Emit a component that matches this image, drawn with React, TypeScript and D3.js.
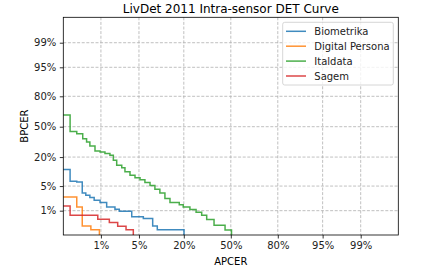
import { useEffect, useRef } from "react";
import * as d3 from "d3";

// error rates in percent, step vertices (APCER, BPCER)
const tickLabels = [1, 5, 20, 50, 80, 95, 99];
const seriesNames = ["Biometrika", "Digital Persona", "Italdata", "Sagem"];
const colors = ["#1f77b4", "#ff7f0e", "#2ca02c", "#d62728"];

const biometrikaApcer = [0, 0.2, 0.29, 0.39, 0.47, 0.58, 0.72, 0.96, 1.31, 1.9, 2.29, 3.8, 5.86, 8.09, 9.4, 20.1];
const biometrikaBpcer = [11.8, 6.58, 6.24, 3.3, 2.87, 2.48, 2.08, 1.78, 1.31, 1.11, 0.96, 0.63, 0.55, 0.3, 0.215, 0];

const digitalApcer = [0, 0.29, 0.39, 0.61, 0.93];
const digitalBpcer = [2.58, 1.31, 0.3, 0.215, 0];

const italdataApcer = [0, 0.2, 0.29, 0.4, 0.49, 0.58, 0.75, 0.96, 1.21, 1.52, 1.77, 2.05, 2.54, 2.9, 3.55, 4.31, 5.2, 6.2, 7.4, 8.7, 10.2, 11.9, 13.8, 17.8, 19.7, 23.2, 26.7, 30.1, 33.3, 38.2, 45.9, 50.5];
const italdataBpcer = [62.8, 44.7, 42.2, 36.9, 33.5, 29.6, 25.1, 24.2, 22.8, 21.4, 17.6, 14.3, 12.7, 10.6, 8.97, 7.87, 7.09, 6.14, 5.2, 4.13, 3.3, 2.32, 1.78, 1.53, 1.31, 1.09, 0.89, 0.71, 0.51, 0.32, 0.21, 0];

const sagemApcer = [0, 0.2, 0.86, 1.48, 2.14, 3.03, 4.04];
const sagemBpcer = [1.41, 0.71, 0.52, 0.4, 0.29, 0.215, 0];

const seriesApcer = [biometrikaApcer, digitalApcer, italdataApcer, sagemApcer];
const seriesBpcer = [biometrikaBpcer, digitalBpcer, italdataBpcer, sagemBpcer];

// inverse normal CDF (Acklam)
function probit(p: number): number {
  if (p <= 0) return -4;
  if (p >= 1) return 4;
  const a = [-39.69683028665376, 220.9460984245205, -275.9285104469687, 138.357751867269, -30.66479806614716, 2.506628277459239];
  const b = [-54.47609879822406, 161.5858368580409, -155.6989798598866, 66.80131188771972, -13.28068155288572];
  const c = [-0.007784894002430293, -0.3223964580411365, -2.400758277161838, -2.549732539343734, 4.374664141464968, 2.938163982698783];
  const d = [0.007784695709041462, 0.3224671290700398, 2.445134137142996, 3.754408661907416];
  const pl = 0.02425;
  let q, r;
  if (p < pl) {
    q = Math.sqrt(-2 * Math.log(p));
    return (((((c[0] * q + c[1]) * q + c[2]) * q + c[3]) * q + c[4]) * q + c[5]) /
      ((((d[0] * q + d[1]) * q + d[2]) * q + d[3]) * q + 1);
  }
  if (p > 1 - pl) {
    q = Math.sqrt(-2 * Math.log(1 - p));
    return -(((((c[0] * q + c[1]) * q + c[2]) * q + c[3]) * q + c[4]) * q + c[5]) /
      ((((d[0] * q + d[1]) * q + d[2]) * q + d[3]) * q + 1);
  }
  q = p - 0.5;
  r = q * q;
  return (((((a[0] * r + a[1]) * r + a[2]) * r + a[3]) * r + a[4]) * r + a[5]) * q /
    (((((b[0] * r + b[1]) * r + b[2]) * r + b[3]) * r + b[4]) * r + 1);
}

const App = () => {
  const ref = useRef<SVGSVGElement>(null);

  useEffect(() => {
    const svg = d3.select(ref.current);
    svg.selectAll("*").remove();

    const left = 63.3, right = 398.3, top = 17.3, bottom = 235;
    const font = "DejaVu Sans, sans-serif";

    const x = d3.scaleLinear().domain([-3, 3]).range([left, right]);
    const y = d3.scaleLinear().domain([-3, 3.03]).range([bottom, top]);

    svg
      .append("defs")
      .append("clipPath")
      .attr("id", "plot-clip")
      .append("rect")
      .attr("x", left)
      .attr("y", top)
      .attr("width", right - left)
      .attr("height", bottom - top);

    // grid
    const grid = svg.append("g");
    tickLabels.forEach((t) => {
      grid
        .append("line")
        .attr("x1", x(probit(t / 100)))
        .attr("x2", x(probit(t / 100)))
        .attr("y1", top)
        .attr("y2", bottom)
        .attr("stroke", "#b0b0b0")
        .attr("stroke-width", 0.8)
        .attr("stroke-dasharray", "3,1.6");
      grid
        .append("line")
        .attr("y1", y(probit(t / 100)))
        .attr("y2", y(probit(t / 100)))
        .attr("x1", left)
        .attr("x2", right)
        .attr("stroke", "#b0b0b0")
        .attr("stroke-width", 0.8)
        .attr("stroke-dasharray", "3,1.6");
    });

    // curves
    const line = d3
      .line<[number, number]>()
      .x((d) => x(probit(d[0] / 100)))
      .y((d) => y(probit(d[1] / 100)))
      .curve(d3.curveStepAfter);

    const curves = svg.append("g").attr("clip-path", "url(#plot-clip)");
    seriesNames.forEach((name, i) => {
      const pts: [number, number][] = seriesApcer[i].map((a, j) => [a, seriesBpcer[i][j]]);
      curves
        .append("path")
        .attr("d", line(pts))
        .attr("fill", "none")
        .attr("stroke", colors[i])
        .attr("stroke-opacity", 0.85)
        .attr("stroke-width", 1.5);
    });

    // frame
    svg
      .append("rect")
      .attr("x", left)
      .attr("y", top)
      .attr("width", right - left)
      .attr("height", bottom - top)
      .attr("fill", "none")
      .attr("stroke", "#000")
      .attr("stroke-width", 0.8);

    // ticks
    const xAxis = d3
      .axisBottom(x)
      .tickValues(tickLabels.map((t) => probit(t / 100)))
      .tickFormat((d, i) => tickLabels[i] + "%")
      .tickSizeInner(3.5)
      .tickSizeOuter(0)
      .tickPadding(3.5);
    const gx = svg.append("g").attr("transform", `translate(0,${bottom})`).call(xAxis);

    const yAxis = d3
      .axisLeft(y)
      .tickValues(tickLabels.map((t) => probit(t / 100)))
      .tickFormat((d, i) => tickLabels[i] + "%")
      .tickSizeInner(3.5)
      .tickSizeOuter(0)
      .tickPadding(3.5);
    const gy = svg.append("g").attr("transform", `translate(${left},0)`).call(yAxis);

    [gx, gy].forEach((g) => {
      g.select(".domain").remove();
      g.selectAll("line").attr("stroke", "#000").attr("stroke-width", 0.8);
      g.selectAll("text")
        .attr("fill", "#222")
        .style("font-family", font)
        .style("font-size", "10px");
    });

    // labels
    svg
      .append("text")
      .attr("x", (left + right) / 2)
      .attr("y", 12.5)
      .attr("text-anchor", "middle")
      .style("font-family", font)
      .style("font-size", "12px")
      .text("LivDet 2011 Intra-sensor DET Curve");

    svg
      .append("text")
      .attr("x", (left + right) / 2)
      .attr("y", 265)
      .attr("text-anchor", "middle")
      .style("font-family", font)
      .style("font-size", "10px")
      .text("APCER");

    svg
      .append("text")
      .attr("transform", `translate(28,${(top + bottom) / 2}) rotate(-90)`)
      .attr("text-anchor", "middle")
      .style("font-family", font)
      .style("font-size", "10px")
      .text("BPCER");

    // legend
    const legend = svg.append("g");
    legend
      .append("rect")
      .attr("x", 282.7)
      .attr("y", 22.3)
      .attr("width", 110.6)
      .attr("height", 62.7)
      .attr("rx", 2)
      .attr("fill", "#fff")
      .attr("fill-opacity", 0.8)
      .attr("stroke", "#cccccc")
      .attr("stroke-width", 0.8);

    seriesNames.forEach((name, i) => {
      const ry = 31.3 + i * 14.9;
      legend
        .append("line")
        .attr("x1", 286)
        .attr("x2", 306)
        .attr("y1", ry)
        .attr("y2", ry)
        .attr("stroke", colors[i])
        .attr("stroke-opacity", 0.85)
        .attr("stroke-width", 1.5);
      legend
        .append("text")
        .attr("x", 314.3)
        .attr("y", ry + 3.6)
        .style("font-family", font)
        .style("font-size", "10px")
        .attr("fill", "#222")
        .text(name);
    });
  }, []);

  return (
    <svg
      ref={ref}
      width={426}
      height={273}
      style={{ position: "absolute", left: 0, top: 0, background: "#fff" }}
    />
  );
};

export default App;
